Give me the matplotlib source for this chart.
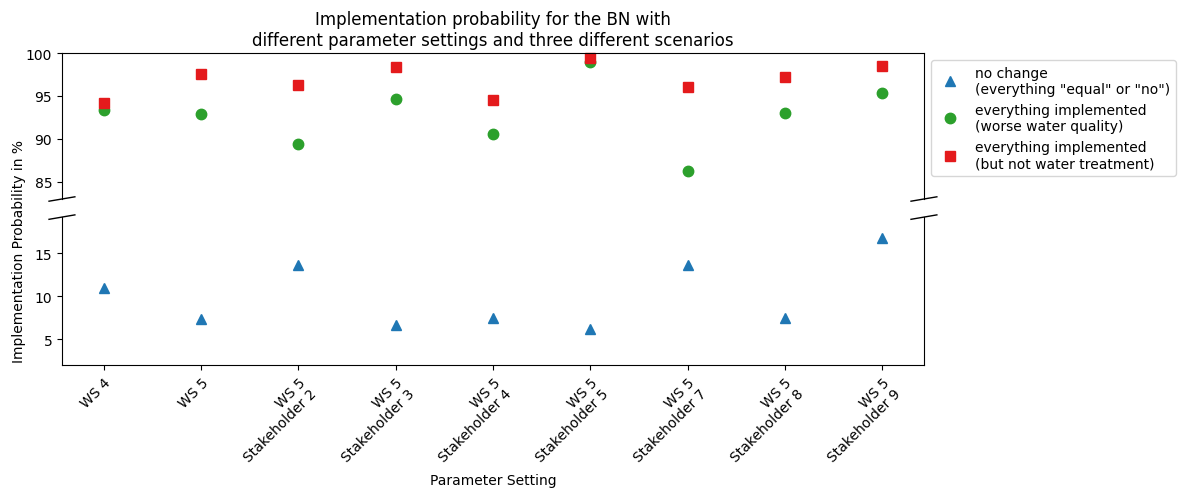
import matplotlib
matplotlib.use("Agg")
import matplotlib.pyplot as plt

# categories on the x axis
settings = [
    "WS 4",
    "WS 5",
    "WS 5\nStakeholder 2",
    "WS 5\nStakeholder 3",
    "WS 5\nStakeholder 4",
    "WS 5\nStakeholder 5",
    "WS 5\nStakeholder 7",
    "WS 5\nStakeholder 8",
    "WS 5\nStakeholder 9",
]

# implementation probability in % for the three scenarios
no_change = [10.9, 7.4, 13.6, 6.7, 7.5, 6.2, 13.6, 7.5, 16.8]
worse_water = [93.4, 92.9, 89.4, 94.7, 90.6, 98.9, 86.3, 93.0, 95.3]
no_treatment = [94.2, 97.6, 96.3, 98.4, 94.5, 99.4, 96.0, 97.2, 98.5]

labels = [
    'no change\n(everything "equal" or "no")',
    "everything implemented\n(worse water quality)",
    "everything implemented\n(but not water treatment)",
]

fig = plt.figure(figsize=(11.8, 4.89), dpi=100)
left, width = 0.0525, 0.7305
ax_top = fig.add_axes([left, 0.591, width, 0.2985])
ax_bot = fig.add_axes([left, 0.2515, width, 0.3025], sharex=ax_top)

x = list(range(len(settings)))
for ax in (ax_top, ax_bot):
    ax.plot(x, no_change, linestyle="none", marker="^", markersize=7,
            color="#1f77b4", label=labels[0])
    ax.plot(x, worse_water, linestyle="none", marker="o", markersize=7.5,
            color="#2ca02c", label=labels[1])
    ax.plot(x, no_treatment, linestyle="none", marker="s", markersize=7,
            color="#e41a1c", label=labels[2])
# the top square at 99.4 pokes over the upper spine
ax_top.lines[2].set_clip_on(False)

ax_bot.set_xlim(-0.43, len(settings) - 1 + 0.43)
ax_top.set_ylim(83, 100)
ax_bot.set_ylim(2, 19.2)
ax_top.set_yticks([85, 90, 95, 100])
ax_bot.set_yticks([5, 10, 15])

# hide the spines between the two parts
ax_top.spines["bottom"].set_visible(False)
ax_bot.spines["top"].set_visible(False)
ax_top.tick_params(axis="x", bottom=False, labelbottom=False)

ax_bot.set_xticks(x)
ax_bot.set_xticklabels(settings, rotation=45, ha="right",
                       rotation_mode="anchor", fontsize=10)
ax_bot.set_xlabel("Parameter Setting", va="center")
ax_bot.xaxis.set_label_coords(0.5, -0.775)

# diagonal break marks
d = 0.015
kw = dict(transform=ax_top.transAxes, color="k", clip_on=False, linewidth=1)
ax_top.plot((-d, d), (-d, d), **kw)
ax_top.plot((1 - d, 1 + d), (-d, d), **kw)
kw.update(transform=ax_bot.transAxes)
ax_bot.plot((-d, d), (1 - d, 1 + d), **kw)
ax_bot.plot((1 - d, 1 + d), (1 - d, 1 + d), **kw)

ax_top.set_title("Implementation probability for the BN with\n"
                 "different parameter settings and three different scenarios",
                 fontsize=12)
fig.text(0.016, 0.485, "Implementation Probability in %", rotation=90,
         ha="center", va="center", fontsize=10)

ax_top.legend(loc="upper left", bbox_to_anchor=(1.0, 1.0), fontsize=10)

fig.savefig("out.png", dpi=100)
